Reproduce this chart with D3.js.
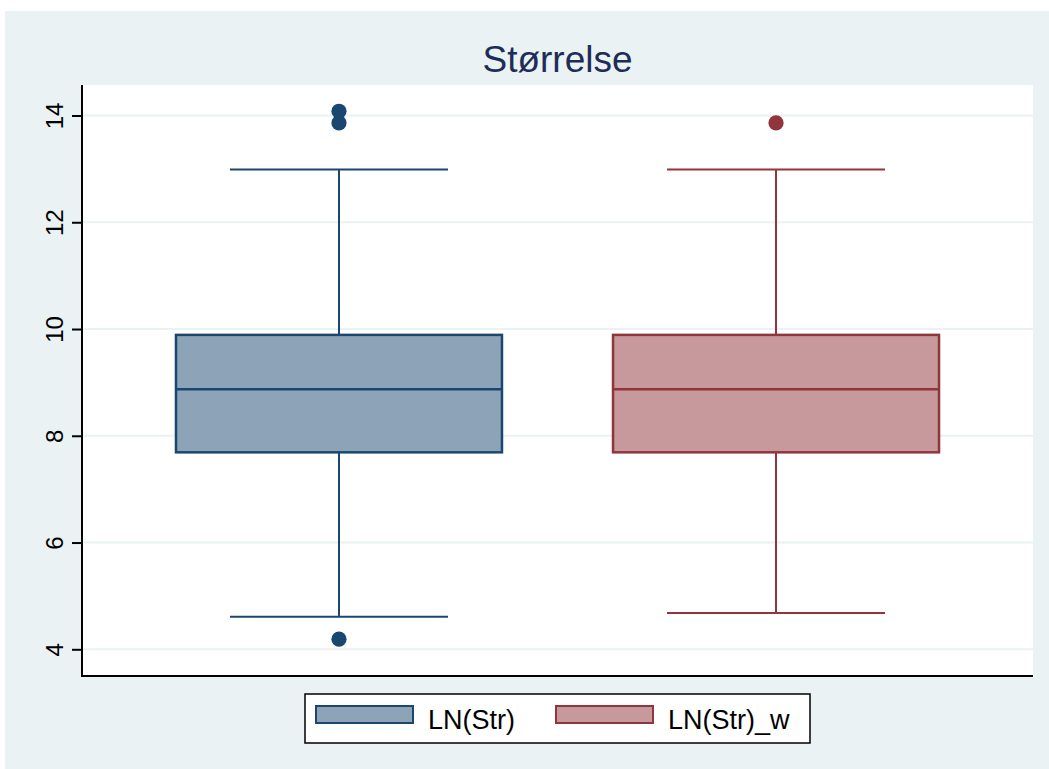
<!DOCTYPE html>
<html>
<head>
<meta charset="utf-8">
<script src="https://cdn.jsdelivr.net/npm/d3@7"></script>
<style>
  html, body { margin: 0; padding: 0; background: #ffffff; }
  svg { display: block; font-family: "Liberation Sans", Arial, sans-serif; }
</style>
</head>
<body>
<svg id="chart" width="1049" height="769"></svg>
<script>
// Box-plot summaries for each variable
const categories = ["LN(Str)", "LN(Str)_w"];
const lowerWhisker = [4.61, 4.68];
const q1 = [7.69, 7.69];
const median = [8.87, 8.87];
const q3 = [9.89, 9.89];
const upperWhisker = [12.99, 12.99];
const outliers = [[14.08, 13.86, 4.19], [13.86]];
const yTicks = [4, 6, 8, 10, 12, 14];

const strokeColors = ["#1a476f", "#90353b"];
const fillColors = ["#8ca3b8", "#c8999c"];

const svg = d3.select("#chart");

// outer graph region
svg.append("rect").attr("x", 5).attr("y", 11).attr("width", 1044).attr("height", 758)
  .attr("fill", "#eaf2f3");

const plot = { left: 82, right: 1033, top: 85, bottom: 676 };

// plot region
svg.append("rect").attr("x", plot.left).attr("y", plot.top)
  .attr("width", plot.right - plot.left).attr("height", plot.bottom - plot.top)
  .attr("fill", "#ffffff");

const y = d3.scaleLinear().domain([4, 14]).range([649.3, 115.5]);
const x = d3.scalePoint().domain(categories).range([plot.left, plot.right]).padding(0.588);

// grid lines
svg.append("g").selectAll("line").data(yTicks).join("line")
  .attr("x1", plot.left).attr("x2", plot.right)
  .attr("y1", d => y(d)).attr("y2", d => y(d))
  .attr("stroke", "#eaf2f3").attr("stroke-width", 2);

// title
svg.append("text").attr("x", (plot.left + plot.right) / 2).attr("y", 72)
  .attr("text-anchor", "middle").attr("font-size", 37).attr("fill", "#1e2d58")
  .text("Størrelse");

// y axis
const yAxis = d3.axisLeft(y).tickValues(yTicks).tickSize(10).tickPadding(6).tickFormat(d3.format("d"));
const ga = svg.append("g").attr("transform", `translate(${plot.left},0)`).call(yAxis)
  .attr("font-size", null).attr("font-family", null);
ga.select(".domain").attr("d", `M0,${plot.top}V${plot.bottom}`).attr("stroke", "#000").attr("stroke-width", 2);
ga.selectAll(".tick line").attr("stroke", "#000").attr("stroke-width", 2);
ga.selectAll(".tick text")
  .style("font-size", "24px").attr("fill", "#000")
  .attr("text-anchor", "middle").attr("dy", null)
  .attr("transform", "rotate(-90)")
  .attr("x", 0).attr("y", -19);

// x axis line
svg.append("line").attr("x1", plot.left - 1).attr("x2", plot.right)
  .attr("y1", plot.bottom).attr("y2", plot.bottom)
  .attr("stroke", "#000").attr("stroke-width", 2);

const boxW = 326, capW = 218;

categories.forEach((c, i) => {
  const cx = x(c);
  const g = svg.append("g");
  const sc = strokeColors[i];
  // whiskers
  g.append("line").attr("x1", cx).attr("x2", cx).attr("y1", y(q3[i])).attr("y2", y(upperWhisker[i]))
    .attr("stroke", sc).attr("stroke-width", 2);
  g.append("line").attr("x1", cx).attr("x2", cx).attr("y1", y(q1[i])).attr("y2", y(lowerWhisker[i]))
    .attr("stroke", sc).attr("stroke-width", 2);
  g.append("line").attr("x1", cx - capW / 2).attr("x2", cx + capW / 2)
    .attr("y1", y(upperWhisker[i])).attr("y2", y(upperWhisker[i]))
    .attr("stroke", sc).attr("stroke-width", 2);
  g.append("line").attr("x1", cx - capW / 2).attr("x2", cx + capW / 2)
    .attr("y1", y(lowerWhisker[i])).attr("y2", y(lowerWhisker[i]))
    .attr("stroke", sc).attr("stroke-width", 2);
  // box
  g.append("rect").attr("x", cx - boxW / 2).attr("y", y(q3[i]))
    .attr("width", boxW).attr("height", y(q1[i]) - y(q3[i]))
    .attr("fill", fillColors[i]).attr("stroke", sc).attr("stroke-width", 2.5);
  g.append("line").attr("x1", cx - boxW / 2).attr("x2", cx + boxW / 2)
    .attr("y1", y(median[i])).attr("y2", y(median[i]))
    .attr("stroke", sc).attr("stroke-width", 2.5);
  // outside values
  g.selectAll("circle").data(outliers[i]).join("circle")
    .attr("cx", cx).attr("cy", d => y(d)).attr("r", 7.6).attr("fill", sc);
});

// legend
const lg = svg.append("g");
lg.append("rect").attr("x", 305).attr("y", 694).attr("width", 505).attr("height", 49)
  .attr("fill", "#ffffff").attr("stroke", "#000").attr("stroke-width", 1.5);
const legendX = [316, 556];
categories.forEach((c, i) => {
  lg.append("rect").attr("x", legendX[i]).attr("y", 706).attr("width", 97).attr("height", 17)
    .attr("fill", fillColors[i]).attr("stroke", strokeColors[i]).attr("stroke-width", 2);
  lg.append("text").attr("x", legendX[i] + 112).attr("y", 729)
    .attr("font-size", 27).attr("fill", "#000").text(c);
});
</script>
</body>
</html>
